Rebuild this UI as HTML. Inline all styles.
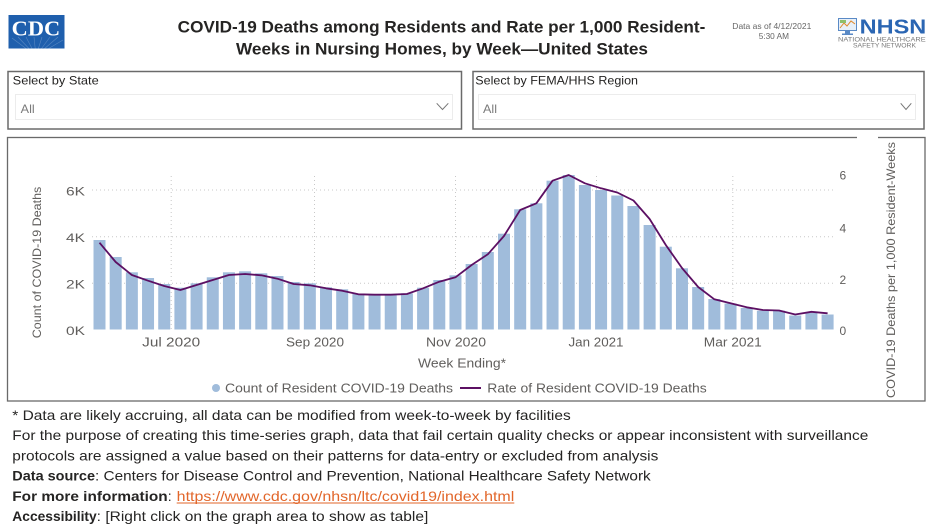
<!DOCTYPE html>
<html><head><meta charset="utf-8"><style>
html,body{margin:0;padding:0;background:#fff;}
svg{display:block;}
text{font-family:"Liberation Sans",sans-serif;}
</style></head><body>
<svg width="936" height="528" viewBox="0 0 936 528" xmlns="http://www.w3.org/2000/svg">
<rect width="936" height="528" fill="#fff"/>
<!-- CDC logo -->
<rect x="8.5" y="15" width="56" height="33.5" fill="#1f5fad"/>
<g stroke="#fff" stroke-opacity="0.25" stroke-width="0.6">
<line x1="36" y1="56" x2="12" y2="38"/><line x1="36" y1="56" x2="18" y2="37"/><line x1="36" y1="56" x2="26" y2="37"/><line x1="36" y1="56" x2="34" y2="37"/><line x1="36" y1="56" x2="42" y2="37"/><line x1="36" y1="56" x2="50" y2="37"/><line x1="36" y1="56" x2="58" y2="37"/><line x1="36" y1="56" x2="63" y2="40"/>
</g>
<text x="11.7" y="35.7" font-family="Liberation Serif,serif" font-weight="bold" font-size="21" fill="#fff" textLength="48.5" lengthAdjust="spacingAndGlyphs" style="font-family:'Liberation Serif',serif">CDC</text>
<!-- Title -->
<text x="177.7" y="32.5" font-size="17" font-weight="bold" fill="#252423" textLength="527.6" lengthAdjust="spacingAndGlyphs">COVID-19 Deaths among Residents and Rate per 1,000 Resident-</text>
<text x="236" y="54.5" font-size="17" font-weight="bold" fill="#252423" textLength="412" lengthAdjust="spacingAndGlyphs">Weeks in Nursing Homes, by Week—United States</text>
<!-- Data as of -->
<text x="732.3" y="29" font-size="8.5" fill="#666" textLength="79" lengthAdjust="spacingAndGlyphs">Data as of 4/12/2021</text>
<text x="758.7" y="39" font-size="8.5" fill="#666" textLength="30.3" lengthAdjust="spacingAndGlyphs">5:30 AM</text>
<!-- NHSN logo -->
<rect x="838.5" y="18.5" width="18" height="12" fill="#e8f0f8" stroke="#5a8ac6" stroke-width="1"/>
<polyline points="840,28 844,23 847,26 851,21 855,24" fill="none" stroke="#e0892a" stroke-width="1"/>
<rect x="840" y="20" width="6" height="3" fill="#8fc06a"/>
<rect x="845" y="31" width="5" height="2.5" fill="#5a8ac6"/>
<rect x="842" y="33.5" width="11" height="1.5" fill="#5a8ac6"/>
<text x="859.7" y="33.3" font-size="20" font-weight="bold" fill="#2b66b3" textLength="66.6" lengthAdjust="spacingAndGlyphs">NHSN</text>
<text x="838" y="41.6" font-size="6.5" fill="#777" textLength="87.7" lengthAdjust="spacingAndGlyphs">NATIONAL HEALTHCARE</text>
<text x="853" y="47.3" font-size="6.5" fill="#777" textLength="63" lengthAdjust="spacingAndGlyphs">SAFETY NETWORK</text>
<!-- Select boxes -->
<rect x="8" y="71.5" width="453.5" height="57.5" fill="#fff" stroke="#6a6a6a" stroke-width="1.5"/>
<text x="12.7" y="84.5" font-size="12" fill="#252423" textLength="86" lengthAdjust="spacingAndGlyphs">Select by State</text>
<rect x="15.5" y="94.5" width="437" height="25" fill="#fff" stroke="#ececec" stroke-width="1"/>
<text x="20.7" y="113" font-size="12" fill="#7a7a7a" textLength="14" lengthAdjust="spacingAndGlyphs">All</text>
<polyline points="436.7,103.3 442.5,109.5 448.3,103.3" fill="none" stroke="#777" stroke-width="1"/>
<rect x="473" y="71.5" width="451" height="57.5" fill="#fff" stroke="#6a6a6a" stroke-width="1.5"/>
<text x="475.3" y="84.5" font-size="12" fill="#252423" textLength="162.7" lengthAdjust="spacingAndGlyphs">Select by FEMA/HHS Region</text>
<rect x="478.5" y="94.5" width="437" height="25" fill="#fff" stroke="#ececec" stroke-width="1"/>
<text x="483" y="113" font-size="12" fill="#7a7a7a" textLength="14" lengthAdjust="spacingAndGlyphs">All</text>
<polyline points="900.7,103.3 906,109.5 911.3,103.3" fill="none" stroke="#777" stroke-width="1"/>
<!-- Chart box -->
<rect x="7.5" y="137.5" width="917.5" height="263.5" fill="#fff" stroke="#6a6a6a" stroke-width="1.3"/>
<rect x="857" y="135" width="21" height="4" fill="#fff"/>
<!-- gridlines -->
<g stroke="#c8c8c8" stroke-width="1" stroke-dasharray="1,3">
<line x1="92" y1="190" x2="834" y2="190"/>
<line x1="92" y1="236.7" x2="834" y2="236.7"/>
<line x1="92" y1="283.3" x2="834" y2="283.3"/>
<line x1="171.2" y1="176" x2="171.2" y2="329"/>
<line x1="314.5" y1="176" x2="314.5" y2="329"/>
<line x1="455.5" y1="176" x2="455.5" y2="329"/>
<line x1="596.5" y1="176" x2="596.5" y2="329"/>
<line x1="732.8" y1="176" x2="732.8" y2="329"/>
</g>
<!-- bars -->
<g fill="#a0bcdb">
<rect x="93.5" y="240" width="12" height="89.5"/>
<rect x="109.68" y="257" width="12" height="72.5"/>
<rect x="125.86" y="272.3" width="12" height="57.2"/>
<rect x="142.04" y="278" width="12" height="51.5"/>
<rect x="158.22" y="284" width="12" height="45.5"/>
<rect x="174.4" y="287.7" width="12" height="41.8"/>
<rect x="190.58" y="283.3" width="12" height="46.2"/>
<rect x="206.76" y="277.3" width="12" height="52.2"/>
<rect x="222.94" y="272.3" width="12" height="57.2"/>
<rect x="239.12" y="271.3" width="12" height="58.2"/>
<rect x="255.3" y="273.3" width="12" height="56.2"/>
<rect x="271.48" y="276" width="12" height="53.5"/>
<rect x="287.66" y="282" width="12" height="47.5"/>
<rect x="303.84" y="283.3" width="12" height="46.2"/>
<rect x="320.02" y="287.3" width="12" height="42.2"/>
<rect x="336.2" y="289.3" width="12" height="40.2"/>
<rect x="352.38" y="294" width="12" height="35.5"/>
<rect x="368.56" y="294" width="12" height="35.5"/>
<rect x="384.74" y="294" width="12" height="35.5"/>
<rect x="400.92" y="293.3" width="12" height="36.2"/>
<rect x="417.1" y="287.7" width="12" height="41.8"/>
<rect x="433.28" y="280" width="12" height="49.5"/>
<rect x="449.46" y="275.3" width="12" height="54.2"/>
<rect x="465.64" y="264" width="12" height="65.5"/>
<rect x="481.82" y="252" width="12" height="77.5"/>
<rect x="498" y="233.7" width="12" height="95.8"/>
<rect x="514.18" y="209.3" width="12" height="120.2"/>
<rect x="530.36" y="203.3" width="12" height="126.2"/>
<rect x="546.54" y="180.7" width="12" height="148.8"/>
<rect x="562.72" y="175" width="12" height="154.5"/>
<rect x="578.9" y="185" width="12" height="144.5"/>
<rect x="595.08" y="190" width="12" height="139.5"/>
<rect x="611.26" y="195.5" width="12" height="134"/>
<rect x="627.44" y="206" width="12" height="123.5"/>
<rect x="643.62" y="225" width="12" height="104.5"/>
<rect x="659.8" y="246.7" width="12" height="82.8"/>
<rect x="675.98" y="268.3" width="12" height="61.2"/>
<rect x="692.16" y="287" width="12" height="42.5"/>
<rect x="708.34" y="299" width="12" height="30.5"/>
<rect x="724.52" y="303.5" width="12" height="26"/>
<rect x="740.7" y="308" width="12" height="21.5"/>
<rect x="756.88" y="310.7" width="12" height="18.8"/>
<rect x="773.06" y="310.7" width="12" height="18.8"/>
<rect x="789.24" y="315.5" width="12" height="14"/>
<rect x="805.42" y="312.8" width="12" height="16.7"/>
<rect x="821.6" y="314.5" width="12" height="15"/>
</g>
<!-- rate line -->
<polyline fill="none" stroke="#5c1063" stroke-width="1.8" stroke-linejoin="round" points="99.5,242.7 115.68,262 131.86,275 148.04,280.7 164.22,286 180.4,290 196.58,285 212.76,280 228.94,275 245.12,274 261.3,275.3 277.48,278.7 293.66,284 309.84,285.3 326.02,288.3 342.2,290.7 358.38,294.3 374.56,294.7 390.74,294.7 406.92,294 423.1,288.3 439.28,281.7 455.46,277.3 471.64,265 487.82,254.3 504,236 520.18,210 536.36,203.3 552.54,180.7 568.72,175 584.9,183.3 601.08,188.3 617.26,192.5 633.44,200.5 649.62,219 665.8,245 681.98,268 698.16,287 714.34,299.3 730.52,303.3 746.7,307.3 762.88,310 779.06,310.5 795.24,314.5 811.42,311.8 827.6,313.3"/>
<!-- left axis -->
<g font-size="12" fill="#605e5c" text-anchor="end">
<text x="85" y="195.3" textLength="19" lengthAdjust="spacingAndGlyphs">6K</text>
<text x="85" y="242" textLength="19" lengthAdjust="spacingAndGlyphs">4K</text>
<text x="85" y="288.5" textLength="19" lengthAdjust="spacingAndGlyphs">2K</text>
<text x="85" y="335" textLength="19" lengthAdjust="spacingAndGlyphs">0K</text>
</g>
<text transform="translate(41,262.5) rotate(-90)" text-anchor="middle" font-size="12" fill="#605e5c" textLength="151.6" lengthAdjust="spacingAndGlyphs">Count of COVID-19 Deaths</text>
<!-- right axis -->
<g font-size="12" fill="#605e5c">
<text x="839.5" y="179.3">6</text>
<text x="839.5" y="232.6">4</text>
<text x="839.5" y="283.8">2</text>
<text x="839.5" y="335">0</text>
</g>
<text transform="translate(895,270) rotate(-90)" text-anchor="middle" font-size="12" fill="#605e5c" textLength="256" lengthAdjust="spacingAndGlyphs">COVID-19 Deaths per 1,000 Resident-Weeks</text>
<!-- x axis -->
<g font-size="13" fill="#605e5c" text-anchor="middle">
<text x="171.2" y="346.7" textLength="58" lengthAdjust="spacingAndGlyphs">Jul 2020</text>
<text x="315" y="346.7" textLength="58" lengthAdjust="spacingAndGlyphs">Sep 2020</text>
<text x="456" y="346.7" textLength="60" lengthAdjust="spacingAndGlyphs">Nov 2020</text>
<text x="596" y="346.7" textLength="55" lengthAdjust="spacingAndGlyphs">Jan 2021</text>
<text x="732.8" y="346.7" textLength="58" lengthAdjust="spacingAndGlyphs">Mar 2021</text>
<text x="462" y="367.7" textLength="88" lengthAdjust="spacingAndGlyphs">Week Ending*</text>
</g>
<!-- legend -->
<circle cx="216" cy="388" r="4" fill="#a0bcdb"/>
<text x="225" y="392.4" font-size="13" fill="#605e5c" textLength="228" lengthAdjust="spacingAndGlyphs">Count of Resident COVID-19 Deaths</text>
<line x1="460" y1="388" x2="481" y2="388" stroke="#5c1063" stroke-width="2"/>
<text x="487.3" y="392.4" font-size="13" fill="#605e5c" textLength="219.4" lengthAdjust="spacingAndGlyphs">Rate of Resident COVID-19 Deaths</text>
<!-- footer -->
<g font-size="14" fill="#252423">
<text x="12.3" y="420" textLength="558.4" lengthAdjust="spacingAndGlyphs">* Data are likely accruing, all data can be modified from week-to-week by facilities</text>
<text x="12.3" y="440" textLength="856" lengthAdjust="spacingAndGlyphs">For the purpose of creating this time-series graph, data that fail certain quality checks or appear inconsistent with surveillance</text>
<text x="12.3" y="460.3" textLength="646" lengthAdjust="spacingAndGlyphs">protocols are assigned a value based on their patterns for data-entry or excluded from analysis</text>
<text x="12.3" y="480.7" font-weight="bold" textLength="82.7" lengthAdjust="spacingAndGlyphs">Data source</text>
<text x="95" y="480.7" textLength="555.7" lengthAdjust="spacingAndGlyphs">: Centers for Disease Control and Prevention, National Healthcare Safety Network</text>
<text x="12.3" y="500.8" font-weight="bold" textLength="155.4" lengthAdjust="spacingAndGlyphs">For more information</text>
<text x="167.7" y="500.8">:</text>
<text x="176.7" y="500.8" fill="#e2662a" textLength="337.6" lengthAdjust="spacingAndGlyphs">https://www.cdc.gov/nhsn/ltc/covid19/index.html</text>
<text x="12.3" y="520.8" font-weight="bold" textLength="84.4" lengthAdjust="spacingAndGlyphs">Accessibility</text>
<text x="96.7" y="520.8" textLength="331.6" lengthAdjust="spacingAndGlyphs">: [Right click on the graph area to show as table]</text>
</g>
<line x1="176.7" y1="503" x2="514.3" y2="503" stroke="#e2662a" stroke-width="1"/>
</svg>
</body></html>
